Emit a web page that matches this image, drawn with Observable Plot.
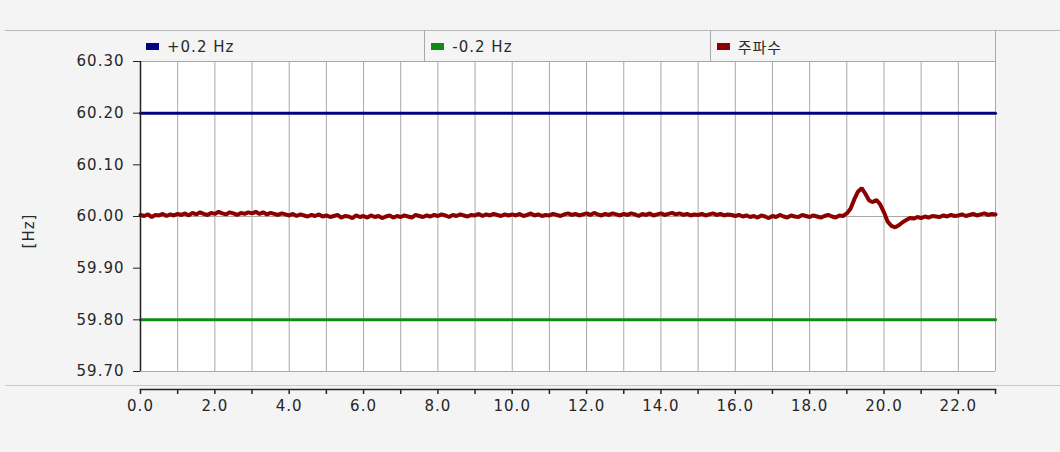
<!DOCTYPE html>
<html><head><meta charset="utf-8">
<script src="https://cdn.jsdelivr.net/npm/d3@7"></script>
<script src="https://cdn.jsdelivr.net/npm/@observablehq/plot@0.6"></script>
<style>
body{margin:0;background:#f4f4f4;font-family:"DejaVu Sans","Noto Sans CJK KR",sans-serif;}
#wrap{position:relative;width:1060px;height:452px;overflow:hidden;}
#head{position:absolute;left:0;top:0;width:1060px;height:61px;z-index:2;}
.hline{position:absolute;left:5px;right:0;height:1px;background:#b9b9b9;}
#legend{position:absolute;left:140px;top:30px;width:856px;height:31px;display:flex;border-right:1px solid #a9a9a9;box-sizing:border-box;}
.cell{flex:1;display:flex;align-items:center;font-size:15px;color:#2a2a2a;letter-spacing:1px;box-sizing:border-box;padding-left:6px;padding-top:2px;}
.cell + .cell{border-left:1px solid #a9a9a9;}
.sw{width:13px;height:7px;margin-right:8px;}
#ylab{position:absolute;left:29px;top:231px;transform:translate(-50%,-50%) rotate(-90deg);font-size:15px;color:#2a2a2a;letter-spacing:1px;}
#chart{position:absolute;left:0;top:50px;}
#chart svg{display:block;}
</style>
</head>
<body>
<div id="wrap">
  <div id="chart"></div>
  <div id="head">
    <div class="hline" style="top:30px"></div>
    <div id="legend"></div>
  </div>
  <div class="hline" style="top:385px;background:#c9c9c9"></div>
  <div id="ylab"></div>
</div>
<script>
// ---- data ----
const timeStart = 0;      // start of the record
const timeStep = 0.1;     // sampling step of the trace
const freq = [
  60.003, 60.001, 60.004, 59.999, 60.003, 60.002, 60.005, 60.001, 60.004, 60.002,
  60.005, 60.003, 60.006, 60.002, 60.007, 60.004, 60.008, 60.005, 60.003, 60.007,
  60.005, 60.009, 60.006, 60.004, 60.008, 60.006, 60.003, 60.007, 60.005, 60.008,
  60.006, 60.009, 60.005, 60.008, 60.004, 60.007, 60.005, 60.003, 60.006, 60.004,
  60.002, 60.005, 60.001, 60.004, 60.002, 60.000, 60.003, 60.001, 60.004, 60.000,
  60.002, 59.999, 60.001, 60.003, 59.998, 60.001, 60.000, 59.997, 60.002, 59.999,
  60.001, 59.998, 60.002, 59.999, 60.001, 59.997, 60.000, 60.002, 59.998, 60.001,
  59.999, 60.002, 60.000, 59.998, 60.003, 60.001, 59.999, 60.002, 60.000, 60.003,
  60.001, 60.004, 60.002, 59.999, 60.003, 60.001, 60.004, 60.002, 60.000, 60.003,
  60.002, 60.005, 60.001, 60.004, 60.002, 60.005, 60.003, 60.001, 60.004, 60.002,
  60.004, 60.002, 60.005, 60.001, 60.003, 60.006, 60.002, 60.004, 60.001, 60.003,
  60.002, 60.005, 60.003, 60.001, 60.004, 60.006, 60.003, 60.005, 60.002, 60.004,
  60.006, 60.003, 60.007, 60.004, 60.002, 60.005, 60.003, 60.006, 60.004, 60.002,
  60.005, 60.003, 60.006, 60.004, 60.001, 60.005, 60.003, 60.006, 60.002, 60.004,
  60.006, 60.003, 60.005, 60.007, 60.004, 60.006, 60.003, 60.005, 60.002, 60.004,
  60.003, 60.005, 60.002, 60.004, 60.006, 60.003, 60.005, 60.002, 60.004, 60.003,
  60.001, 60.003, 60.000, 60.002, 59.999, 60.001, 59.998, 60.002, 60.000, 59.997,
  60.001, 59.999, 60.003, 60.000, 59.998, 60.002, 60.000, 59.999, 60.003, 60.001,
  59.999, 60.002, 60.000, 59.998, 60.001, 60.003, 60.000, 59.998, 60.002, 60.001,
  60.006, 60.015, 60.033, 60.048, 60.055, 60.044, 60.031, 60.028, 60.032, 60.023,
  60.008, 59.990, 59.982, 59.979, 59.983, 59.989, 59.993, 59.997, 59.996, 59.999,
  59.997, 60.000, 59.998, 60.001, 60.000, 59.999, 60.002, 60.000, 60.003, 60.001,
  60.002, 60.004, 60.001, 60.003, 60.005, 60.002, 60.004, 60.006, 60.003, 60.005,
  60.004
];
const upperLimit = 60.2;
const lowerLimit = 59.8;
const nominal = 60.0;
const xDomain = [0, 23];
const yDomain = [59.7, 60.3];
const yTicks = [59.7, 59.8, 59.9, 60.0, 60.1, 60.2, 60.3];
const xTicks = [0,1,2,3,4,5,6,7,8,9,10,11,12,13,14,15,16,17,18,19,20,21,22,23];
const xTickLabels = [0,2,4,6,8,10,12,14,16,18,20,22];
const seriesNames = ["+0.2 Hz", "-0.2 Hz", "주파수"];
const seriesColors = ["#000080", "#118a11", "#8b0000"];
const yLabel = "[Hz]";

// ---- legend & label ----
const legend = document.getElementById("legend");
seriesNames.forEach((name, i) => {
  const c = document.createElement("div");
  c.className = "cell";
  const sw = document.createElement("span");
  sw.className = "sw";
  sw.style.background = seriesColors[i];
  const t = document.createElement("span");
  t.textContent = name;
  c.appendChild(sw); c.appendChild(t);
  legend.appendChild(c);
});
document.getElementById("ylab").textContent = yLabel;

// ---- tables ----
const freqData = freq.map((v, i) => ({t: timeStart + i * timeStep, v}));
const limitData = [
  ...xDomain.map(t => ({t, v: upperLimit, s: seriesNames[0]})),
  ...xDomain.map(t => ({t, v: lowerLimit, s: seriesNames[1]}))
];

const chart = Plot.plot({
  width: 1060,
  height: 402,
  marginLeft: 140,
  marginRight: 65,
  marginTop: 11,
  marginBottom: 63,
  x: {domain: xDomain},
  y: {domain: yDomain, range: [321, 11]},
  style: {fontFamily: "'DejaVu Sans', sans-serif", fontSize: "15px", color: "#262626", background: "transparent", letterSpacing: "1px"},
  marks: [
    Plot.rect([0], {x1: xDomain[0], x2: xDomain[1], y1: yDomain[0], y2: yDomain[1], fill: "white"}),
    Plot.ruleX(xTicks.slice(1, -1), {y1: yDomain[0], y2: yDomain[1], stroke: "#a8a8a8", strokeWidth: 1}),
    Plot.ruleY([nominal], {stroke: "#a8a8a8"}),
    Plot.ruleY(yDomain, {stroke: "#a8a8a8"}),
    Plot.ruleX([xDomain[1]], {y1: yDomain[0], y2: yDomain[1], stroke: "#a8a8a8"}),
    Plot.line(limitData, {x: "t", y: "v", z: "s", stroke: "s", strokeWidth: 3}),
    Plot.line(freqData, {x: "t", y: "v", stroke: seriesColors[2], strokeWidth: 4, strokeLinejoin: "miter"}),
    Plot.ruleX([xDomain[0]], {y1: yDomain[0], y2: yDomain[1], stroke: "#222", strokeWidth: 1.5}),
    Plot.axisY(yTicks, {tickFormat: d => d.toFixed(2), tickSize: 7, tickPadding: 9, label: null, stroke: "#222"}),
    Plot.axisX(xTicks, {tickFormat: d => xTickLabels.includes(d) ? d.toFixed(1) : "", tickSize: 5, tickPadding: 6, label: null, stroke: "#222", strokeWidth: 1.5}),
    Plot.frame({anchor: "bottom", stroke: "#222", strokeWidth: 1.5})
  ],
  color: {domain: seriesNames, range: seriesColors}
});
document.getElementById("chart").appendChild(chart);
</script>
</body></html>
